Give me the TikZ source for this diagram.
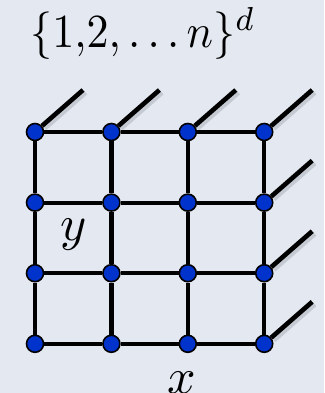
\documentclass[tikz,border=0pt]{standalone}
\definecolor{gridbg}{HTML}{E4E8F1}
\definecolor{dotblue}{HTML}{0033CC}
\definecolor{shadegray}{HTML}{8C9199}
\usetikzlibrary{calc, backgrounds}
\tikzset{
	gdot/.style={circle, draw=black, fill=dotblue, line width=1.6pt,
		minimum size=17pt, inner sep=0pt},
	gline/.style={line width=4.2pt, draw=black},
	dline/.style={line width=4.6pt, draw=black},
	dshade/.style={line width=5pt, draw=shadegray, opacity=0.35,
		transform canvas={shift={(2.5pt,-2.5pt)}}},
	glabel/.style={scale=5, transform shape, inner sep=0pt, anchor=base}
}

\begin{document}
\begin{tikzpicture}[x=1pt, y=-1pt]
	\useasboundingbox (0,0) rectangle (324,393);
	\begin{pgfonlayer}{background}
		\fill[gridbg] (0,0) rectangle (324,393);
	\end{pgfonlayer}
	\node[glabel, xscale=0.88, yscale=0.95] (title) at (143,48) {$\{1{,}2,\ldots n\}^d$};
	\node[glabel] (ylab) at (74,240) {$y$};
	\node[glabel] (xlab) at (182,393) {$x$};
	\foreach \i in {0,...,3}
		\foreach \j in {0,...,3}
			\node[gdot] (d\i\j) at ({35+76.4*\i},{132+70.6*\j}) {};
	\begin{pgfonlayer}{background}
		\foreach \i in {0,...,3} {
			\draw[gline] (d\i0) -- (d\i1) -- (d\i2) -- (d\i3);
			\draw[gline] (d0\i) -- (d1\i) -- (d2\i) -- (d3\i);
		}
	\end{pgfonlayer}
	% edges towards the next dimension
	\foreach \k/\e in {00/ea, 10/eb, 20/ec, 30/ed, 31/ee, 32/ef, 33/eg} {
		\coordinate (\e) at ($(d\k.center)+(48,-42)$);
		\draw[dshade] (d\k) -- (\e);
		\draw[dline] (d\k) -- (\e);
	}
\end{tikzpicture}
\end{document}
